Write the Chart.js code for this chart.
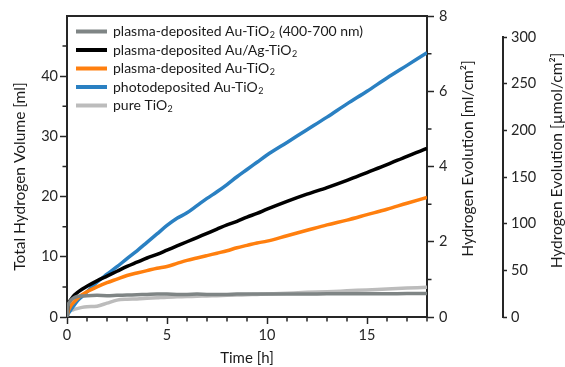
<!DOCTYPE html>
<html>
<head>
<meta charset="utf-8">
<script src="https://cdn.jsdelivr.net/npm/chart.js@4.4.1/dist/chart.umd.min.js"></script>
<style>
  html, body { margin: 0; padding: 0; background: #fff; }
  #wrap { width: 565px; height: 367px; }
</style>
</head>
<body>
<div id="wrap"><canvas id="myChart"></canvas></div>
<script>
const hours = [0, 0.05, 0.15, 0.3, 0.5, 0.75, 1, 1.5, 2, 2.5, 3, 3.5, 4, 4.5, 5, 5.5, 6, 6.5, 7, 7.5, 8, 8.5, 9, 9.5, 10, 11, 12, 13, 14, 15, 16, 17, 18];

const auTiO2Vis = [0, 1.8, 2.6, 3.1, 3.4, 3.5, 3.55, 3.6, 3.55, 3.6, 3.65, 3.7, 3.75, 3.8, 3.8, 3.75, 3.75, 3.8, 3.75, 3.75, 3.75, 3.8, 3.8, 3.8, 3.8, 3.8, 3.8, 3.85, 3.85, 3.85, 3.85, 3.9, 3.9];
const auAgTiO2 = [0, 2.0, 2.7, 3.4, 4.0, 4.6, 5.1, 6.0, 6.8, 7.6, 8.4, 9.1, 9.8, 10.4, 11.1, 11.8, 12.5, 13.2, 13.9, 14.6, 15.3, 15.9, 16.6, 17.2, 17.9, 19.2, 20.4, 21.5, 22.7, 24.0, 25.3, 26.7, 28.0];
const auTiO2 = [0, 0.8, 1.6, 2.3, 3.0, 3.7, 4.2, 5.0, 5.7, 6.3, 6.9, 7.3, 7.7, 8.1, 8.4, 8.9, 9.4, 9.8, 10.2, 10.6, 11.0, 11.5, 11.9, 12.3, 12.6, 13.5, 14.4, 15.3, 16.1, 17.0, 17.9, 18.9, 19.85];
const photoAuTiO2 = [0, 0.5, 1.0, 1.7, 2.6, 3.4, 4.2, 5.8, 7.1, 8.35, 9.7, 11.0, 12.4, 13.8, 15.2, 16.4, 17.3, 18.5, 19.7, 20.8, 22.0, 23.3, 24.5, 25.7, 26.9, 29.0, 31.1, 33.2, 35.4, 37.5, 39.7, 41.8, 43.9];
const pureTiO2 = [0, 0.6, 1.0, 1.2, 1.4, 1.6, 1.7, 1.8, 2.3, 2.8, 2.95, 3.0, 3.1, 3.2, 3.3, 3.35, 3.4, 3.45, 3.5, 3.55, 3.6, 3.65, 3.7, 3.75, 3.8, 3.95, 4.1, 4.2, 4.35, 4.5, 4.65, 4.8, 4.95];

const seriesLabels = [
  'plasma-deposited Au-TiO₂ (400-700 nm)',
  'plasma-deposited Au/Ag-TiO₂',
  'plasma-deposited Au-TiO₂',
  'photodeposited Au-TiO₂',
  'pure TiO₂',
];
const seriesColors = ['#7f8585', '#000000', '#ff7f0e', '#2a80c2', '#bcbcbc'];
const seriesValues = [auTiO2Vis, auAgTiO2, auTiO2, photoAuTiO2, pureTiO2];

const xTicks = [0, 5, 10, 15];
const yTicks = [0, 10, 20, 30, 40];
const y1Ticks = [0, 2, 4, 6, 8];
const y2Ticks = [0, 50, 100, 150, 200, 250, 300];

const axisColor = '#262626';
const fontFamily = 'Lato';
const tickFont = { family: fontFamily, size: 14.5 };
const titleSize = 15.5;

function keepTicks(list) {
  return (scale) => {
    scale.ticks = scale.ticks.filter((t) => list.includes(t.value));
  };
}

// draws text, turning '₂' into a real subscript 2
function drawRich(ctx, text, x, y, size) {
  const parts = text.split('₂');
  parts.forEach((p, i) => {
    ctx.font = `${size}px ${fontFamily}`;
    ctx.fillText(p, x, y);
    x += ctx.measureText(p).width;
    if (i < parts.length - 1) {
      ctx.font = `${Math.round(size * 0.65)}px ${fontFamily}`;
      ctx.fillText('2', x + 0.5, y + 4);
      x += ctx.measureText('2').width + 1;
    }
  });
}

const extras = {
  id: 'extras',
  afterDraw(chart) {
    const ctx = chart.ctx;
    const { left, right, top, bottom } = chart.chartArea;
    const { x, y, y1, y2 } = chart.scales;
    ctx.save();
    ctx.strokeStyle = axisColor;
    ctx.lineWidth = 2;
    ctx.beginPath();
    ctx.moveTo(left - 1, top);
    ctx.lineTo(right + 1, top);
    ctx.stroke();
    // third axis line only over 0..300
    ctx.beginPath();
    ctx.moveTo(y2.left, y2.getPixelForValue(0) + 1);
    ctx.lineTo(y2.left, y2.getPixelForValue(300) - 1);
    ctx.stroke();

    // minor ticks
    ctx.lineWidth = 1.5;
    ctx.beginPath();
    for (let v = 1; v <= 18; v++) {
      if (v % 5 === 0) continue;
      const px = x.getPixelForValue(v);
      ctx.moveTo(px, bottom);
      ctx.lineTo(px, bottom + 4.5);
    }
    for (let v = 5; v < 50; v += 10) {
      const py = y.getPixelForValue(v);
      ctx.moveTo(left, py);
      ctx.lineTo(left - 4.5, py);
    }
    for (let v = 1; v < 8; v += 2) {
      const py = y1.getPixelForValue(v);
      ctx.moveTo(right, py);
      ctx.lineTo(right + 4.5, py);
    }
    ctx.stroke();

    // legend inside the plot
    ctx.textBaseline = 'middle';
    ctx.textAlign = 'left';
    chart.data.datasets.forEach((ds, i) => {
      const ly = top + 15.5 + i * 18.5;
      ctx.strokeStyle = ds.borderColor;
      ctx.lineWidth = 4;
      ctx.beginPath();
      ctx.moveTo(left + 9, ly);
      ctx.lineTo(left + 40, ly);
      ctx.stroke();
      ctx.fillStyle = '#1a1a1a';
      drawRich(ctx, ds.label, left + 46, ly, 14);
    });

    // vertical axis titles, reading bottom to top
    const mid = (top + bottom) / 2;
    const titles = [
      ['Total Hydrogen Volume [ml]', y.left + 20, mid + 10],
      ['Hydrogen Evolution [ml/cm²]', y1.left + 41, mid - 8],
      ['Hydrogen Evolution [µmol/cm²]', y2.left + 54, mid - 6],
    ];
    ctx.fillStyle = '#1a1a1a';
    ctx.font = `${titleSize}px ${fontFamily}`;
    ctx.textAlign = 'center';
    titles.forEach(([t, tx, ty]) => {
      ctx.save();
      ctx.translate(tx, ty);
      ctx.rotate(-Math.PI / 2);
      ctx.fillText(t, 0, 0);
      ctx.restore();
    });
    ctx.restore();
  },
};

const datasets = seriesLabels.map((label, i) => ({
  label: label,
  data: seriesValues[i].map((v, j) => ({ x: hours[j], y: v })),
  borderColor: seriesColors[i],
  backgroundColor: seriesColors[i],
  borderWidth: 3.5,
  pointRadius: 0,
  cubicInterpolationMode: 'monotone',
  yAxisID: 'y',
}));

const sideAxis = (extra) => ({
  type: 'linear',
  grid: { drawOnChartArea: false, tickColor: axisColor, tickWidth: 1.5, tickLength: 7 },
  border: { color: axisColor, width: 2 },
  ticks: { color: axisColor, font: tickFont },
  ...extra,
});

const config = {
  type: 'line',
  data: { datasets: datasets },
  options: {
    responsive: true,
    maintainAspectRatio: false,
    animation: false,
    layout: { padding: { top: 16, left: 0, right: 0, bottom: 0 } },
    plugins: { legend: { display: false }, tooltip: { enabled: false } },
    scales: {
      x: {
        type: 'linear',
        min: 0,
        max: 18,
        grid: { drawOnChartArea: false, tickColor: axisColor, tickWidth: 1.5, tickLength: 7 },
        border: { color: axisColor, width: 2 },
        ticks: { stepSize: 5, color: axisColor, font: tickFont, padding: 3, maxRotation: 0 },
        afterBuildTicks: keepTicks(xTicks),
        afterFit: (s) => { s.height = 50; },
        title: { display: true, text: 'Time [h]', color: '#1a1a1a', font: { family: fontFamily, size: 15 }, padding: 0 },
      },
      y: sideAxis({
        position: 'left',
        min: 0,
        max: 50,
        ticks: { stepSize: 10, color: axisColor, font: tickFont, padding: 2 },
        afterBuildTicks: keepTicks(yTicks),
        afterFit: (s) => { s.width = 67; },
      }),
      y1: sideAxis({
        position: 'right',
        min: 0,
        max: 8,
        ticks: { stepSize: 2, color: axisColor, font: tickFont, padding: 5 },
        afterBuildTicks: keepTicks(y1Ticks),
        afterFit: (s) => { s.width = 76; },
      }),
      y2: sideAxis({
        position: 'right',
        min: 0,
        max: 322.5,
        grid: { drawOnChartArea: false, tickColor: axisColor, tickWidth: 1.5, tickLength: 4 },
        border: { display: false },
        ticks: { stepSize: 50, color: axisColor, font: tickFont, padding: 4 },
        afterBuildTicks: keepTicks(y2Ticks),
        afterFit: (s) => { s.width = 62; },
      }),
    },
  },
  plugins: [extras],
};

new Chart(document.querySelector('#myChart'), config);
</script>
</body>
</html>
